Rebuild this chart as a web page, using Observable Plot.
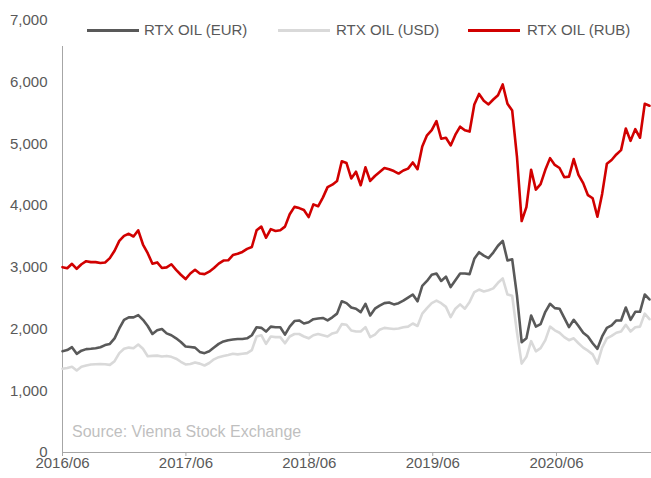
<!DOCTYPE html>
<html>
<head>
<meta charset="utf-8">
<script src="https://cdn.jsdelivr.net/npm/d3@7"></script>
<script src="https://cdn.jsdelivr.net/npm/@observablehq/plot@0.6"></script>
<style>
  html, body { margin: 0; padding: 0; background: #fff; }
  #wrap { position: relative; width: 651px; height: 478px; font-family: "Liberation Sans", Arial, sans-serif; color: #595959; }
  #legend { position: absolute; left: 55px; top: 14px; width: 590px; height: 32px; background: #fff; }
  .sw { position: absolute; height: 3px; top: 15px; }
  .lt { position: absolute; top: 7px; font-size: 15px; line-height: 18px; white-space: nowrap; color: #595959; }
  #source { position: absolute; left: 72px; top: 423px; font-size: 16px; line-height: 18px; color: #bfbfbf; white-space: nowrap; }
</style>
</head>
<body>
<div id="wrap"></div>
<script>
// biweekly observations starting 2016/06
const startDate = "2016-06-01";
const stepDays = 14;
const seriesNames = ["RTX OIL (EUR)", "RTX OIL (USD)", "RTX OIL (RUB)"];
const tickLabels = ["2016/06", "2017/06", "2018/06", "2019/06", "2020/06"];
const yTicks = [0, 1000, 2000, 3000, 4000, 5000, 6000, 7000];

const rtxEUR = [1642,1660,1707,1599,1650,1675,1680,1690,1705,1740,1760,1850,2010,2150,2190,2190,2225,2150,2050,1920,
  1980,2000,1930,1900,1850,1790,1718,1710,1700,1630,1610,1640,1700,1760,1800,1820,1830,1840,1840,1850,
  1900,2030,2020,1960,2040,2030,2030,1910,2040,2130,2140,2090,2110,2160,2170,2180,2140,2190,2250,2450,
  2420,2350,2330,2274,2410,2220,2330,2380,2420,2430,2400,2420,2460,2510,2560,2450,2700,2780,2880,2900,
  2780,2850,2680,2790,2900,2900,2890,3139,3246,3190,3150,3240,3350,3430,3112,3130,2550,1788,1850,2220,
  2040,2080,2280,2410,2340,2330,2180,2031,2150,2050,1940,1880,1770,1680,1880,2020,2060,2140,2140,2350,
  2150,2280,2280,2560,2480];

const rtxUSD = [1356,1370,1390,1329,1390,1410,1426,1430,1435,1430,1420,1480,1610,1680,1700,1690,1750,1680,1560,1565,
  1570,1556,1565,1550,1520,1470,1426,1435,1460,1440,1410,1450,1510,1545,1565,1580,1600,1590,1600,1610,
  1660,1880,1900,1760,1880,1870,1870,1770,1880,1920,1920,1880,1850,1900,1920,1900,1880,1930,1950,2080,
  2070,1977,1960,1960,2031,1870,1910,1990,2020,2010,2000,2010,2030,2040,2090,2050,2250,2340,2420,2460,
  2420,2360,2193,2330,2400,2330,2440,2600,2640,2610,2630,2660,2750,2820,2560,2540,1950,1440,1550,1804,
  1640,1690,1820,2040,1980,1940,1870,1820,1850,1770,1700,1650,1590,1440,1700,1850,1890,1940,1960,2070,
  1960,2030,2040,2250,2160];

const rtxRUB = [3003,2985,3058,2977,3050,3100,3085,3085,3070,3080,3150,3270,3430,3510,3544,3500,3600,3370,3230,3058,
  3080,2990,3000,3050,2960,2880,2810,2900,2960,2900,2890,2930,2990,3060,3110,3115,3200,3220,3250,3300,
  3330,3600,3660,3480,3620,3590,3600,3660,3860,3980,3960,3930,3814,4020,3990,4130,4300,4340,4400,4720,
  4690,4440,4550,4330,4620,4400,4480,4544,4610,4590,4560,4520,4570,4600,4700,4590,4960,5140,5225,5370,
  5084,5100,4976,5150,5280,5220,5200,5640,5810,5700,5640,5720,5790,5964,5650,5540,4800,3750,3976,4582,
  4260,4350,4580,4770,4660,4610,4460,4470,4754,4500,4365,4170,4120,3820,4190,4680,4740,4830,4900,5250,
  5050,5240,5100,5650,5620];

const seriesColors = ["#595959", "#d9d9d9", "#d10000"];

const t0 = new Date(startDate + "T00:00:00Z");
const dayMs = 864e5;
const dates = rtxEUR.map((_, i) => new Date(+t0 + i * stepDays * dayMs));
const xEnd = new Date(+t0 + 1742 * dayMs);
const tickDates = tickLabels.map(s => new Date(s.replace("/", "-") + "-01T00:00:00Z"));
const labelOf = new Map(tickDates.map((d, i) => [+d, tickLabels[i]]));

const rows = (vals) => vals.map((v, i) => ({date: dates[i], value: v}));

const chart = Plot.plot({
  width: 651,
  height: 478,
  marginLeft: 62,
  marginRight: 0,
  marginTop: 20,
  marginBottom: 26,
  style: {fontFamily: "'Liberation Sans', Arial, sans-serif", fontSize: "15px", color: "#595959", background: "#fff"},
  x: {type: "utc", domain: [t0, xEnd]},
  y: {domain: [0, 7000]},
  marks: [
    Plot.axisY({ticks: yTicks, tickSize: 0, tickPadding: 15, tickFormat: d3.format(","), fill: "#595959", label: null}),
    Plot.axisX({ticks: tickDates, tickSize: 4, tickPadding: 1, tickFormat: d => labelOf.get(+d), stroke: "#a6a6a6", fill: "#595959", label: null}),
    Plot.ruleY([0], {stroke: "#a6a6a6", strokeWidth: 1}),
    Plot.ruleX([t0], {stroke: "#a6a6a6", strokeWidth: 1}),
    Plot.line(rows(rtxUSD), {x: "date", y: "value", stroke: seriesColors[1], strokeWidth: 2.6}),
    Plot.line(rows(rtxEUR), {x: "date", y: "value", stroke: seriesColors[0], strokeWidth: 2.6}),
    Plot.line(rows(rtxRUB), {x: "date", y: "value", stroke: seriesColors[2], strokeWidth: 2.6})
  ]
});

const wrap = document.getElementById("wrap");
wrap.appendChild(chart);

// legend (white box overlapping plot top, as in reference)
const legend = document.createElement("div");
legend.id = "legend";
const swLeft = [32, 223, 413];
const txtLeft = [89, 281, 472];
seriesNames.forEach((name, i) => {
  const sw = document.createElement("div");
  sw.className = "sw";
  sw.style.left = swLeft[i] + "px";
  sw.style.width = "52px";
  sw.style.background = seriesColors[i];
  legend.appendChild(sw);
  const tx = document.createElement("div");
  tx.className = "lt";
  tx.style.left = txtLeft[i] + "px";
  tx.textContent = name;
  legend.appendChild(tx);
});
wrap.appendChild(legend);

const src = document.createElement("div");
src.id = "source";
src.textContent = "Source: Vienna Stock Exchange";
wrap.appendChild(src);
</script>
</body>
</html>
